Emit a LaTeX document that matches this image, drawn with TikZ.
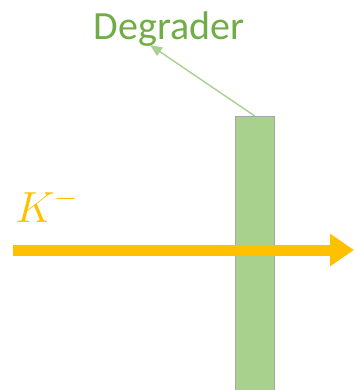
\documentclass[tikz,border=0pt]{standalone}
\usepackage{fontspec}
\setmainfont{Carlito}
\usetikzlibrary{arrows.meta}

\definecolor{degfill}{HTML}{A9D18E}
\definecolor{degtext}{HTML}{70AD47}
\definecolor{kaon}{HTML}{FFC000}

\begin{document}
\begin{tikzpicture}[
  x=1pt, y=1pt,
  line cap=butt,
  slab/.style={draw=gray!70, fill=degfill, thin, minimum width=39pt,
    minimum height=274pt, inner sep=0pt},
  beam/.style={-{Triangle[length=24pt, width=31pt]}, line width=11pt, kaon},
  pointer/.style={-{Triangle[length=12pt, width=10pt]}, line width=1.4pt, degfill},
]

% bounding box of the reference
\useasboundingbox (0,0) rectangle (354,-390);

% degrader slab
\node[slab] (slab) at (254.5,-253) {};

% label and pointer
\node[text=degtext, font=\fontsize{40}{40}\selectfont, inner sep=0pt,
      anchor=base] (deglabel) at (169,-40) {Degrader};
\coordinate (tip) at (150,-45);
\draw[pointer] (slab.north) -- (tip);

% kaon beam
\coordinate (kstart) at (13,-250);
\coordinate (kend) at (354,-250);
\draw[beam] (kstart) -- (kend);
\node[kaon, font=\fontsize{20}{20}\selectfont, scale=2.1, inner sep=0pt,
      anchor=base west] (klabel) at (15,-222) {$K^{-}$};

\end{tikzpicture}
\end{document}
